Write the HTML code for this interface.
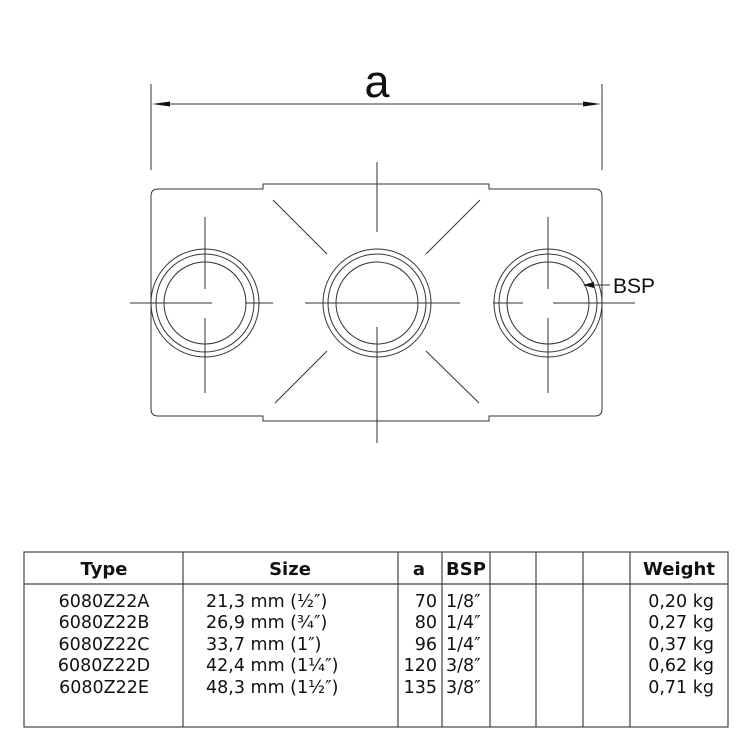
<!DOCTYPE html>
<html><head><meta charset="utf-8"><style>
html,body{margin:0;padding:0;background:#fff;}
svg{display:block}
</style></head><body>
<svg width="750" height="750" viewBox="0 0 750 750" xmlns="http://www.w3.org/2000/svg">
<g stroke="#333" stroke-width="1" fill="none">
<line x1="151" y1="84" x2="151" y2="170"/>
<line x1="602" y1="84" x2="602" y2="170"/>
<line x1="160" y1="104" x2="593" y2="104"/>
<path d="M263,189 L158,189 Q151,189 151,196 L151,409 Q151,416 158,416 L263,416 L263,421 L489,421 L489,416 L595,416 Q602,416 602,409 L602,196 Q602,189 595,189 L489,189 L489,184 L263,184 Z"/>
<circle cx="205" cy="303" r="54"/><circle cx="205" cy="303" r="49"/><circle cx="205" cy="303" r="41"/>
<circle cx="377" cy="303" r="54"/><circle cx="377" cy="303" r="49"/><circle cx="377" cy="303" r="41"/>
<circle cx="548" cy="303" r="54"/><circle cx="548" cy="303" r="49"/><circle cx="548" cy="303" r="41"/>
<line x1="205" y1="217" x2="205" y2="289"/><line x1="205" y1="318" x2="205" y2="393"/>
<line x1="130" y1="303" x2="212" y2="303"/><line x1="245" y1="303" x2="273" y2="303"/>
<line x1="377" y1="162" x2="377" y2="232"/><line x1="377" y1="327" x2="377" y2="443"/>
<line x1="305" y1="303" x2="460" y2="303"/>
<line x1="548" y1="217" x2="548" y2="289"/><line x1="548" y1="318" x2="548" y2="393"/>
<line x1="493" y1="303" x2="523" y2="303"/><line x1="553" y1="303" x2="635" y2="303"/>
<line x1="273" y1="200" x2="327" y2="254"/><line x1="480" y1="200" x2="426" y2="254"/>
<line x1="275" y1="403" x2="327" y2="351"/><line x1="479" y1="403" x2="426" y2="351"/>
<line x1="592" y1="285" x2="610" y2="285"/>
</g>
<g fill="#111">
<polygon points="152,104 170,101.5 170,106.5"/>
<polygon points="601,104 583,101.5 583,106.5"/>
<polygon points="583,285 594,282 594,288"/>
</g>
<text x="377" y="97" font-family="Liberation Sans, sans-serif" font-size="45" text-anchor="middle" fill="#111">a</text>
<text x="613" y="293" font-family="Liberation Sans, sans-serif" font-size="21" fill="#111">BSP</text>
<g stroke="#444" stroke-width="1.2" fill="none">
<rect x="24" y="552" width="704" height="175"/>
<line x1="24" y1="584" x2="728" y2="584"/>
<line x1="183" y1="552" x2="183" y2="727"/>
<line x1="398" y1="552" x2="398" y2="727"/>
<line x1="442" y1="552" x2="442" y2="727"/>
<line x1="490" y1="552" x2="490" y2="727"/>
<line x1="536" y1="552" x2="536" y2="727"/>
<line x1="583" y1="552" x2="583" y2="727"/>
<line x1="630" y1="552" x2="630" y2="727"/>
</g>
<g font-family="DejaVu Sans, sans-serif" fill="#111">
<g font-weight="bold" font-size="18">
<text x="104" y="575" text-anchor="middle">Type</text>
<text x="290" y="575" text-anchor="middle">Size</text>
<text x="419" y="575" text-anchor="middle">a</text>
<text x="466" y="575" text-anchor="middle">BSP</text>
<text x="679" y="575" text-anchor="middle">Weight</text>
</g>
<g font-size="17.5">
<text x="104" y="607" text-anchor="middle">6080Z22A</text>
<text x="104" y="628" text-anchor="middle">6080Z22B</text>
<text x="104" y="650" text-anchor="middle">6080Z22C</text>
<text x="104" y="671" text-anchor="middle">6080Z22D</text>
<text x="104" y="693" text-anchor="middle">6080Z22E</text>
<text x="206" y="607">21,3 mm (½″)</text>
<text x="206" y="628">26,9 mm (¾″)</text>
<text x="206" y="650">33,7 mm (1″)</text>
<text x="206" y="671">42,4 mm (1¼″)</text>
<text x="206" y="693">48,3 mm (1½″)</text>
<text x="437" y="607" text-anchor="end">70</text>
<text x="437" y="628" text-anchor="end">80</text>
<text x="437" y="650" text-anchor="end">96</text>
<text x="437" y="671" text-anchor="end">120</text>
<text x="437" y="693" text-anchor="end">135</text>
<text x="446" y="607">1/8″</text>
<text x="446" y="628">1/4″</text>
<text x="446" y="650">1/4″</text>
<text x="446" y="671">3/8″</text>
<text x="446" y="693">3/8″</text>
<text x="714" y="607" text-anchor="end">0,20 kg</text>
<text x="714" y="628" text-anchor="end">0,27 kg</text>
<text x="714" y="650" text-anchor="end">0,37 kg</text>
<text x="714" y="671" text-anchor="end">0,62 kg</text>
<text x="714" y="693" text-anchor="end">0,71 kg</text>
</g>
</g>
</svg>
</body></html>
